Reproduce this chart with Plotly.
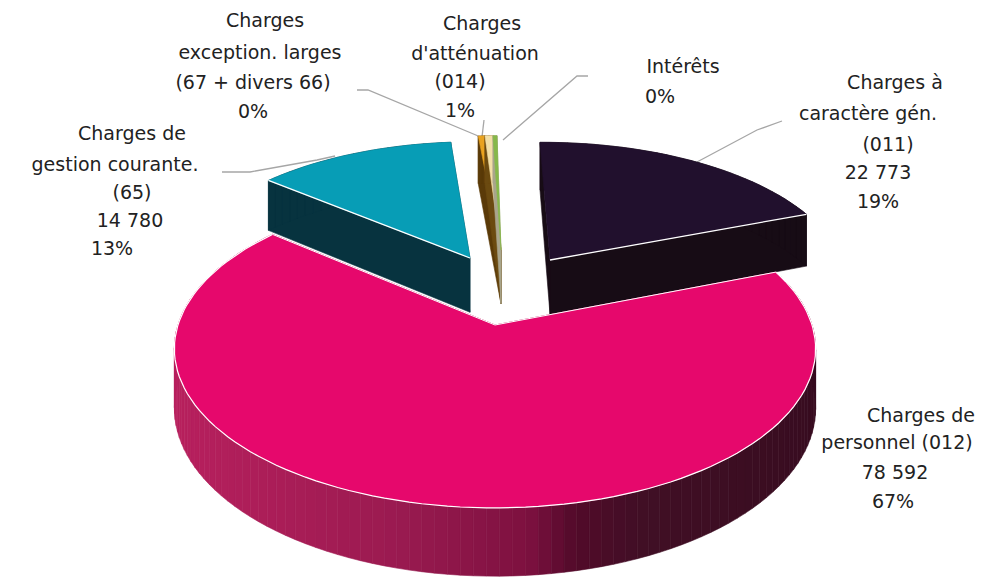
import math
import plotly.graph_objects as go

# Budget lines, counter-clockwise from the right-hand edge of "Charges à caractère gén."
categories = ["Charges à caractère gén. (011)", "Intérêts", "Charges d'atténuation (014)",
              "Charges exception. larges (67 + divers 66)", "Charges de gestion courante (65)",
              "Charges de personnel (012)"]
values = [22773, 300, 600, 500, 14780, 78592]
top_colors = ["#21102d", "#86b84a", "#f3dfa6", "#e9a21f", "#079db6", "#e6086c"]
side_colors = ["#170c15", "#a9a58c", "#6b4a10", "#5a3a08", "#07333f", "#8a1245"]

# Label text and where each line of it sits
label_lines = ["Charges", "exception. larges", "(67 + divers 66)", "0%",
               "Charges", "d'atténuation", "(014)", "1%",
               "Intérêts", "0%",
               "Charges à", "caractère gén.", "(011)", "22 773", "19%",
               "Charges de", "gestion courante.", "(65)", "14 780", "13%",
               "Charges de", "personnel (012)", "78 592", "67%"]
label_x = [265, 260, 253, 253, 482, 475, 460, 460, 683, 660,
           895, 868, 888, 878, 878, 132, 115, 132, 130, 112, 921, 897, 895, 893]
label_y = [22, 54, 84, 113, 25, 55, 83, 112, 68, 98,
           84, 115, 146, 174, 203, 135, 166, 194, 222, 250, 417, 444, 474, 503]

leader_lines = [
    ([222, 250, 317, 335], [172, 172, 160, 156]),
    ([697, 757, 782], [162, 130, 121]),
    ([357, 368, 483], [90, 90, 138]),
    ([484, 482], [120, 137]),
    ([588, 577, 503], [76, 76, 140]),
]

# Perspective disc: plane point (u, v) maps to the page through one homography
CX, CY, A, B, K, DEPTH = 495.0, 325.0, 317.0, 155.5, 0.15, 58.0
START_DEG = 21.0
# Exploded slice apexes on the page, and slice radii
APEX = [(550, 260), (501, 250), (501, 250), (501, 250), (470, 258), (495, 325)]
RADIUS = [0.98, 0.97, 0.97, 0.97, 0.97, 1.0]
# Shading of the large slice's outer wall, left to right across the page
RIM_STOPS = [(172, "#b8205e"), (400, "#9a1a50"), (530, "#7c103f"), (575, "#520a2a"),
             (640, "#410f25"), (815, "#380c20")]


def project(u, v, drop=0.0):
    s = 1.0 / (1.0 - K * v)
    return CX + A * u * s, CY + B * v * s + drop * s


def unproject(x, y):
    dx, dy = x - CX, y - CY
    v = dy / (B + K * dy)
    return dx * (1.0 - K * v) / A, v


def rim_color(x):
    for (x0, c0), (x1, c1) in zip(RIM_STOPS, RIM_STOPS[1:]):
        if x <= x1:
            t = max(0.0, (x - x0) / (x1 - x0))
            a = [int(c0[i:i + 2], 16) for i in (1, 3, 5)]
            b = [int(c1[i:i + 2], 16) for i in (1, 3, 5)]
            return "rgb(%d,%d,%d)" % tuple(round(p + (q - p) * t) for p, q in zip(a, b))
    return RIM_STOPS[-1][1]


def polygon(points, color, edge=None, width=0.6):
    xs, ys = zip(*points)
    return go.Scatter(x=list(xs) + [xs[0]], y=list(ys) + [ys[0]], mode="lines", fill="toself",
                      fillcolor=color, line=dict(color=edge or color, width=width),
                      hoverinfo="skip", showlegend=False)


def polyline(points, color, width):
    xs, ys = zip(*points)
    return go.Scatter(x=list(xs), y=list(ys), mode="lines", line=dict(color=color, width=width),
                      hoverinfo="skip", showlegend=False)


# Slice angular extents follow directly from the values
total = sum(values)
spans = []
angle = START_DEG
for val in values:
    sweep = val / total * 360.0
    spans.append((angle, angle + sweep))
    angle += sweep


def slice_traces(i):
    a0, a1 = spans[i]
    u0, v0 = unproject(*APEX[i])
    r = RADIUS[i]
    steps = max(2, int((a1 - a0) / 2))
    ang = [math.radians(a0 + (a1 - a0) * n / steps) for n in range(steps + 1)]
    plane = [(u0 + r * math.cos(t), v0 - r * math.sin(t)) for t in ang]
    top_arc = [project(u, v) for u, v in plane]
    low_arc = [project(u, v, DEPTH) for u, v in plane]
    tip_top, tip_low = project(u0, v0), project(u0, v0, DEPTH)
    out = [polygon([tip_top, top_arc[0], low_arc[0], tip_low], side_colors[i]),
           polygon([tip_top, top_arc[-1], low_arc[-1], tip_low], side_colors[i])]
    for n in range(steps):
        mid = (top_arc[n][0] + top_arc[n + 1][0]) / 2
        color = rim_color(mid) if i == 5 else side_colors[i]
        out.append(polygon([top_arc[n], top_arc[n + 1], low_arc[n + 1], low_arc[n]], color))
    out.append(polygon([tip_top] + top_arc, top_colors[i]))
    return out, tip_top, top_arc


fig = go.Figure()

# Text first, so the pie's wall passes over the start of "personnel"
fig.add_trace(go.Scatter(x=label_x, y=label_y, text=label_lines, mode="text", textposition="middle center",
                         textfont=dict(family="DejaVu Sans", size=19, color="#222222"),
                         hoverinfo="skip", showlegend=False, cliponaxis=False))
for lx, ly in leader_lines:
    fig.add_trace(polyline(list(zip(lx, ly)), "#a6a6a6", 1.3))

# Back-to-front: rear slices, then the large front slice over their lower parts
for i in (4, 3, 2, 1, 0, 5):
    traces, tip, arc = slice_traces(i)
    fig.add_traces(traces)
    if i == 0:
        fig.add_trace(polyline([tip, arc[0]], "#ffffff", 1.3))
    elif i == 4:
        fig.add_trace(polyline([tip, arc[-1]], "#ffffff", 1.3))
    elif i == 5:
        fig.add_trace(polyline([arc[0], tip, arc[-1]], "#ffffff", 1.0))
        fig.add_trace(polyline(arc, "#ffffff", 1.2))

fig.update_layout(
    width=996, height=577, margin=dict(l=0, r=0, t=0, b=0),
    paper_bgcolor="white", plot_bgcolor="white", showlegend=False,
    xaxis=dict(range=[0, 996], visible=False, fixedrange=True),
    yaxis=dict(range=[577, 0], visible=False, fixedrange=True),
)
fig.write_html("out.html", config=dict(displayModeBar=False))
